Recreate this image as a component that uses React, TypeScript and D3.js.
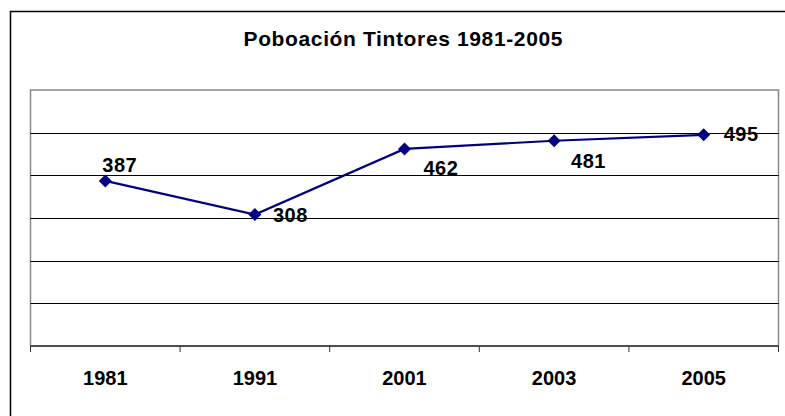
import React from "react";
import * as d3 from "d3";

const years = ["1981", "1991", "2001", "2003", "2005"];
const population = [387, 308, 462, 481, 495];
const yTicks = [0, 100, 200, 300, 400, 500, 600];
const title = "Poboación Tintores 1981-2005";
// label offsets relative to each point (dx, dy)
const labelDx = [-3, 18, 19, 17, 20];
const labelDy = [-9, 7, 26, 27.5, 6];

export default function App() {
  const W = 785, H = 416;
  const plot = { left: 30.5, right: 778.5, top: 90, bottom: 346 };
  const x = d3.scaleBand<string>().domain(years).range([plot.left, plot.right]);
  const y = d3.scaleLinear().domain([0, 600]).range([plot.bottom, plot.top]);
  const line = d3
    .line<number>()
    .x((_, i) => (x(years[i]) as number) + x.bandwidth() / 2)
    .y((d) => y(d));
  const tickXs = years.map((yr) => x(yr) as number).concat([plot.right]);
  const font = "Arial, 'Liberation Sans', Helvetica, sans-serif";

  return (
    <svg
      width={W}
      height={H}
      style={{ position: "absolute", left: 0, top: 0, background: "#fff" }}
      fontFamily={font}
    >
      <rect x={10.5} y={11.5} width={790} height={420} fill="#fff" stroke="#000" strokeWidth={1.5} />
      <text
        x={403}
        y={46}
        textAnchor="middle"
        fontSize={21}
        fontWeight="bold"
        textLength={319}
        lengthAdjust="spacing"
      >
        {title}
      </text>
      {/* plot area */}
      <rect
        x={plot.left}
        y={plot.top}
        width={plot.right - plot.left}
        height={plot.bottom - plot.top}
        fill="#fff"
        stroke="#888"
        strokeWidth={1.5}
      />
      {yTicks
        .filter((t) => t > 0 && t < 600)
        .map((t) => (
          <line
            key={t}
            x1={plot.left}
            x2={plot.right}
            y1={Math.round(y(t)) + 0.5}
            y2={Math.round(y(t)) + 0.5}
            stroke="#000"
            strokeWidth={1}
          />
        ))}
      {/* x axis */}
      <line x1={plot.left} x2={plot.right} y1={plot.bottom} y2={plot.bottom} stroke="#333" strokeWidth={1.5} />
      {tickXs.map((tx, i) => (
        <line key={i} x1={tx} x2={tx} y1={plot.bottom} y2={plot.bottom + 6} stroke="#333" strokeWidth={1} />
      ))}
      {years.map((yr) => (
        <text
          key={yr}
          x={(x(yr) as number) + x.bandwidth() / 2}
          y={385}
          textAnchor="middle"
          fontSize={20}
          fontWeight="bold"
        >
          {yr}
        </text>
      ))}
      <path d={line(population) || ""} fill="none" stroke="#000080" strokeWidth={2.2} />
      {population.map((v, i) => {
        const cx = (x(years[i]) as number) + x.bandwidth() / 2;
        const cy = y(v);
        const s = 6.5;
        return (
          <g key={i}>
            <path
              d={`M${cx},${cy - s}L${cx + s},${cy}L${cx},${cy + s}L${cx - s},${cy}Z`}
              fill="#000080"
            />
            <text
              x={cx + labelDx[i]}
              y={cy + labelDy[i]}
              fontSize={20}
              fontWeight="bold"
              letterSpacing={0.5}
            >
              {v}
            </text>
          </g>
        );
      })}
    </svg>
  );
}
